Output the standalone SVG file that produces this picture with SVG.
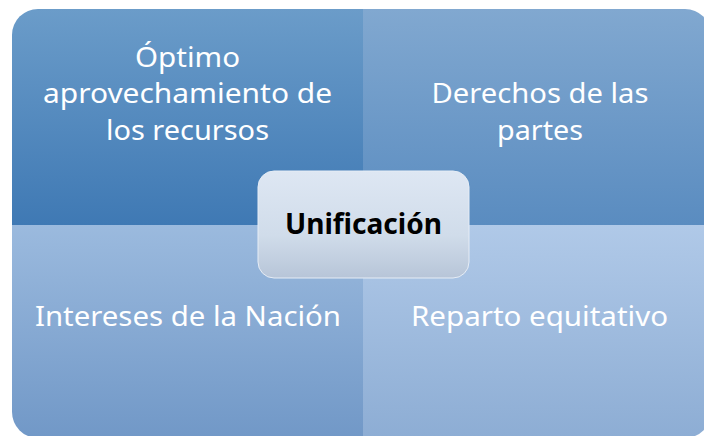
<svg xmlns="http://www.w3.org/2000/svg" width="704" height="436" viewBox="0 0 704 436">
  <defs>
    <linearGradient id="gTL" x1="0" y1="0" x2="0" y2="1">
      <stop offset="0" stop-color="#6b9cc9"/>
      <stop offset="1" stop-color="#3f79b4"/>
    </linearGradient>
    <linearGradient id="gTR" x1="0" y1="0" x2="0" y2="1">
      <stop offset="0" stop-color="#81a8d0"/>
      <stop offset="1" stop-color="#5a8cc0"/>
    </linearGradient>
    <linearGradient id="gBL" x1="0" y1="0" x2="0" y2="1">
      <stop offset="0" stop-color="#9bbade"/>
      <stop offset="1" stop-color="#7198c7"/>
    </linearGradient>
    <linearGradient id="gBR" x1="0" y1="0" x2="0" y2="1">
      <stop offset="0" stop-color="#b0c9e8"/>
      <stop offset="1" stop-color="#8dadd4"/>
    </linearGradient>
    <linearGradient id="gC" x1="0" y1="0" x2="0" y2="1">
      <stop offset="0" stop-color="#dee7f3"/>
      <stop offset="0.6" stop-color="#d0dcea"/>
      <stop offset="1" stop-color="#b7c5d8"/>
    </linearGradient>
    <clipPath id="outer">
      <rect x="12" y="9" width="699" height="429" rx="26" ry="26"/>
    </clipPath>
  </defs>
  <style>
    .lbl { font-family: "Noto Sans", "Open Sans", "Liberation Sans", sans-serif; font-size: 28px; fill: #ffffff; text-anchor: middle; }
    .ctr { font-family: "Noto Sans", "Open Sans", "Liberation Sans", sans-serif; font-size: 28px; font-weight: bold; fill: #000000; text-anchor: middle; }
  </style>
  <rect width="704" height="436" fill="#ffffff"/>
  <g clip-path="url(#outer)">
    <g id="q-tl">
      <rect x="12" y="9" width="351" height="216" fill="url(#gTL)"/>
      <text class="lbl" x="187.5" y="67" textLength="105" lengthAdjust="spacingAndGlyphs">Óptimo</text>
      <text class="lbl" x="187.5" y="103" textLength="289" lengthAdjust="spacingAndGlyphs">aprovechamiento de</text>
      <text class="lbl" x="187.5" y="140" textLength="163" lengthAdjust="spacingAndGlyphs">los recursos</text>
    </g>
    <g id="q-tr">
      <rect x="363" y="9" width="348" height="216" fill="url(#gTR)"/>
      <text class="lbl" x="540" y="103" textLength="217" lengthAdjust="spacingAndGlyphs">Derechos de las</text>
      <text class="lbl" x="540" y="140" textLength="86" lengthAdjust="spacingAndGlyphs">partes</text>
    </g>
    <g id="q-bl">
      <rect x="12" y="225" width="351" height="213" fill="url(#gBL)"/>
      <text class="lbl" x="188" y="326" textLength="306" lengthAdjust="spacingAndGlyphs">Intereses de la Nación</text>
    </g>
    <g id="q-br">
      <rect x="363" y="225" width="348" height="213" fill="url(#gBR)"/>
      <text class="lbl" x="539.5" y="326" textLength="257" lengthAdjust="spacingAndGlyphs">Reparto equitativo</text>
    </g>
  </g>
  <g id="connectors"></g>
  <g id="center">
    <rect x="258" y="171" width="211" height="107" rx="16" ry="16" fill="url(#gC)" stroke="#e6edf6" stroke-width="1"/>
    <text class="ctr" x="363.5" y="234" textLength="157" lengthAdjust="spacingAndGlyphs">Unificación</text>
  </g>
</svg>
